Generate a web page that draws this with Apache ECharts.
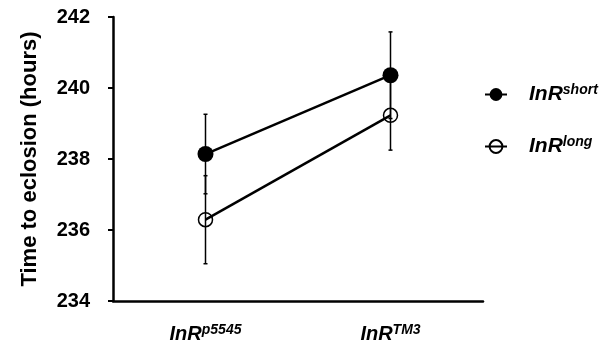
<!DOCTYPE html>
<html><head><meta charset="utf-8">
<script src="https://cdn.jsdelivr.net/npm/echarts@6/dist/echarts.min.js"></script>
<style>html,body{margin:0;padding:0;background:#fff}#c{width:616px;height:347px}</style>
</head><body><div id="c"></div>
<script>
var categories = ['p5545', 'TM3'];
var shortMean = [238.14, 240.36];
var shortErr = [1.12, 1.22];
var longMean = [236.29, 239.23];
var longErr = [1.24, 0.98];
var yTicks = [234, 236, 238, 240, 242];

var F = '"Liberation Sans", Arial, sans-serif';
var chart = echarts.init(document.getElementById('c'));

function errData(mean, err) {
  return mean.map(function (m, i) { return [i, m - err[i], m + err[i]]; });
}
function errRender(params, api) {
  var x = api.value(0);
  var lo = api.coord([x, api.value(1)]);
  var hi = api.coord([x, api.value(2)]);
  var cw = 2;
  var st = { stroke: '#000', lineWidth: 1.5 };
  return {
    type: 'group',
    children: [
      { type: 'line', shape: { x1: lo[0], y1: lo[1], x2: hi[0], y2: hi[1] }, style: st },
      { type: 'line', shape: { x1: lo[0] - cw, y1: lo[1], x2: lo[0] + cw, y2: lo[1] }, style: st },
      { type: 'line', shape: { x1: hi[0] - cw, y1: hi[1], x2: hi[0] + cw, y2: hi[1] }, style: st }
    ]
  };
}
function rich(padLeft, size) {
  return {
    b: { fontFamily: F, fontWeight: 'bold', fontStyle: 'italic', fontSize: size, color: '#000', padding: [0, 0, 0, padLeft] },
    s: { fontFamily: F, fontWeight: 'bold', fontStyle: 'italic', fontSize: 14, color: '#000', padding: [0, 0, 9, 0] }
  };
}

chart.setOption({
  animation: false,
  grid: { left: 113, right: 133, top: 17, bottom: 46 },
  legend: {
    orient: 'vertical',
    left: 484,
    top: 83,
    padding: 0,
    itemGap: 30,
    itemWidth: 22,
    itemHeight: 16,
    data: ['short', 'long'],
    formatter: function (n) { return '{b|InR}{s|' + n + '}'; },
    textStyle: { rich: rich(17, 21) }
  },
  xAxis: {
    type: 'category',
    data: categories,
    axisLine: { lineStyle: { color: '#000', width: 2.5 } },
    axisTick: { show: false },
    axisLabel: {
      margin: 22,
      formatter: function (v) { return '{b|InR}{s|' + v + '}'; },
      rich: rich(0, 20)
    }
  },
  yAxis: {
    type: 'value',
    min: 234, max: 242, interval: 2,
    name: 'Time to eclosion (hours)',
    nameLocation: 'middle',
    nameGap: 72,
    nameTextStyle: { fontFamily: F, fontWeight: 'bold', fontSize: 22, color: '#000' },
    splitLine: { show: false },
    axisLine: { show: true, lineStyle: { color: '#000', width: 2.5 } },
    axisTick: { show: true, length: 5, lineStyle: { color: '#000', width: 2 } },
    axisLabel: {
      margin: 23,
      fontFamily: F, fontWeight: 'bold', fontSize: 20, color: '#000',
      formatter: function (v) { return yTicks.indexOf(v) >= 0 ? String(v) : ''; }
    }
  },
  series: [
    { type: 'custom', renderItem: errRender, data: errData(longMean, longErr), z: 1, silent: true },
    { type: 'custom', renderItem: errRender, data: errData(shortMean, shortErr), z: 1, silent: true },
    {
      name: 'short', type: 'line', data: shortMean, z: 3,
      symbol: 'circle', symbolSize: 16, showSymbol: true,
      lineStyle: { color: '#000', width: 2.5 },
      itemStyle: { color: '#000', borderColor: '#000', borderWidth: 0 }
    },
    {
      name: 'long', type: 'line', data: longMean, z: 3,
      symbol: 'circle', symbolSize: 14, showSymbol: true,
      lineStyle: { color: '#000', width: 2.5 },
      itemStyle: { color: 'rgba(255,255,255,0)', borderColor: '#000', borderWidth: 1.5 }
    }
  ]
});
</script></body></html>
